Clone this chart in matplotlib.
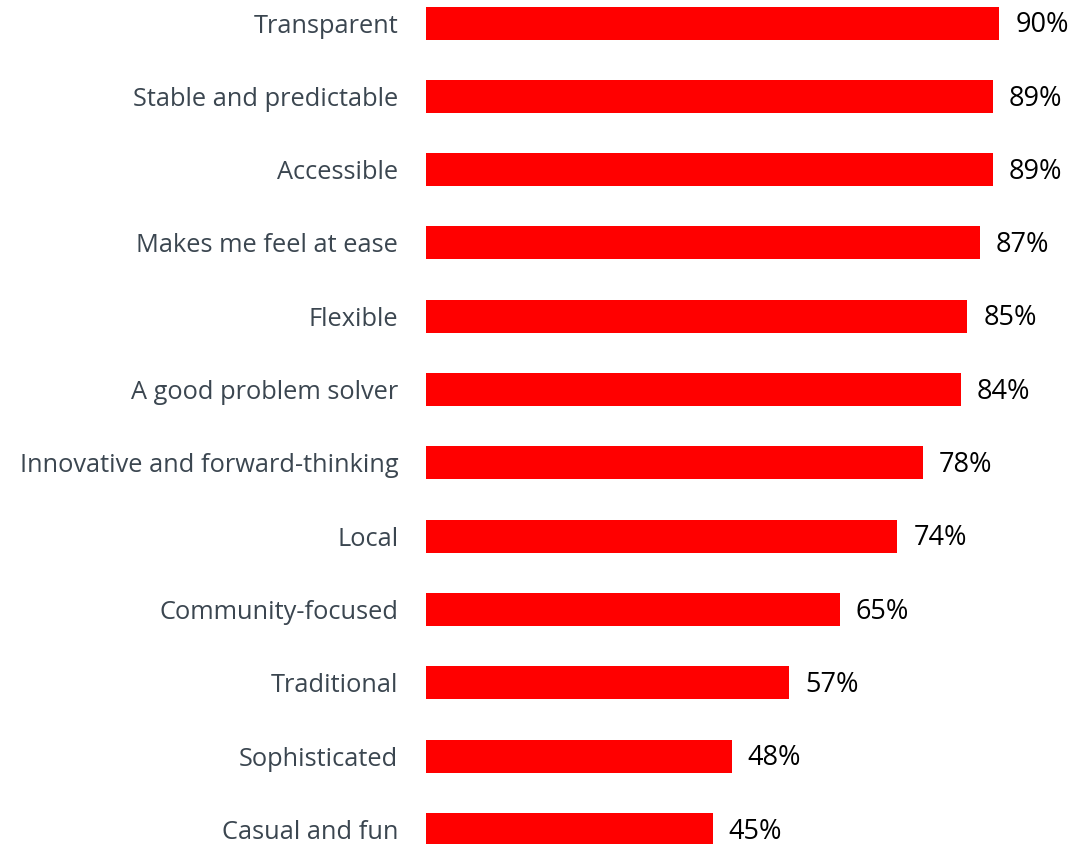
import matplotlib.pyplot as plt

categories = ["Transparent", "Stable and predictable", "Accessible",
              "Makes me feel at ease", "Flexible", "A good problem solver",
              "Innovative and forward-thinking", "Local", "Community-focused",
              "Traditional", "Sophisticated", "Casual and fun"]
values = [90, 89, 89, 87, 85, 84, 78, 74, 65, 57, 48, 45]

plt.rcParams['font.family'] = ['Open Sans', 'DejaVu Sans']

fig = plt.figure(figsize=(10.78, 8.44), dpi=100)
ax = fig.add_axes([426 / 1078, 0, (1063 - 426) / 1078, 1])

ypos = list(range(len(categories)))
ax.barh(ypos, values, height=0.45, color="#ff0000")
ax.set_xlim(0, 100)
ax.set_ylim(11.2, -0.314)

for y, v in zip(ypos, values):
    ax.text(v + 2.5, y + 0.03, f"{v}%", va="center", ha="left",
            fontsize=19.5, color="black")

ax.set_yticks(ypos)
ax.set_yticklabels(categories, fontsize=18.3, color="#3b4650")
ax.tick_params(axis="y", length=0, pad=20)
ax.set_xticks([])
for s in ax.spines.values():
    s.set_visible(False)

fig.savefig("out.png", dpi=100)
